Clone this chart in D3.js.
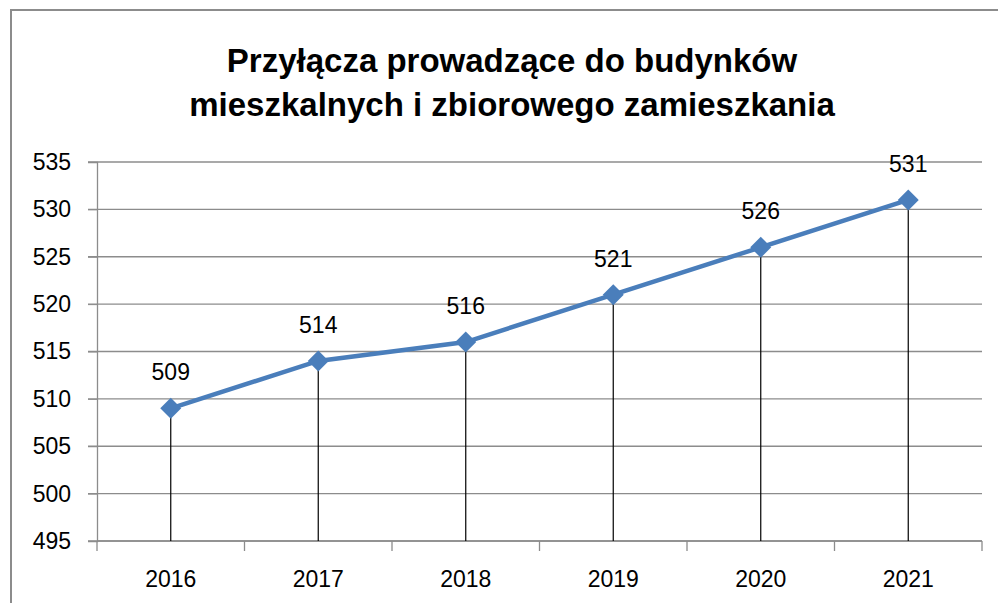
<!DOCTYPE html>
<html>
<head>
<meta charset="utf-8">
<script src="https://cdnjs.cloudflare.com/ajax/libs/d3/7.8.5/d3.min.js"></script>
<style>
  body { margin: 0; background: #fff; }
  svg { display: block; }
</style>
</head>
<body>
<script>
const years = ['2016', '2017', '2018', '2019', '2020', '2021'];
const values = [509, 514, 516, 521, 526, 531];
const yTicks = [495, 500, 505, 510, 515, 520, 525, 530, 535];
const titleLines = ['Przyłącza prowadzące do budynków', 'mieszkalnych i zbiorowego zamieszkania'];

const width = 998;
const height = 603;
const margin = { top: 162, right: 16, bottom: 62, left: 97 };
const font = 'Liberation Sans, Arial, sans-serif';

const svg = d3.select('body').append('svg')
    .attr('width', width)
    .attr('height', height);

// outer chart frame (only top and left edges are in view)
svg.append('rect')
    .attr('x', 11).attr('y', 10)
    .attr('width', 1100).attr('height', 700)
    .attr('fill', 'none')
    .attr('stroke', '#8c8c8c')
    .attr('stroke-width', 2);

svg.selectAll('.title')
    .data(titleLines)
  .enter().append('text')
    .attr('class', 'title')
    .attr('x', 512)
    .attr('y', (d, i) => 72 + i * 44)
    .attr('text-anchor', 'middle')
    .style('font-family', font)
    .style('font-weight', 'bold')
    .style('font-size', '33px')
    .style('fill', '#000')
    .text(d => d);

const x = d3.scaleBand()
    .domain(years)
    .range([margin.left, width - margin.right]);

const y = d3.scaleLinear()
    .domain([495, 535])
    .range([height - margin.bottom, margin.top]);

// gridlines
svg.append('g')
    .selectAll('line')
    .data(yTicks)
  .enter().append('line')
    .attr('x1', margin.left - 9)
    .attr('x2', width - margin.right)
    .attr('y1', d => y(d))
    .attr('y2', d => y(d))
    .attr('stroke', '#8c8c8c')
    .attr('stroke-width', 1.3);

// y axis
const yAxis = svg.append('g')
    .attr('transform', 'translate(' + margin.left + ',0)')
    .call(d3.axisLeft(y).tickValues(yTicks).tickSize(9).tickPadding(17));
yAxis.select('.domain').attr('stroke', '#8c8c8c').attr('stroke-width', 1.3);
yAxis.selectAll('.tick line').attr('stroke', '#8c8c8c');
yAxis.selectAll('text')
    .style('font-family', font)
    .style('font-size', '23px')
    .style('fill', '#000');

// x axis with ticks at band edges
const xAxis = svg.append('g')
    .attr('transform', 'translate(0,' + y(495) + ')');
xAxis.append('line')
    .attr('x1', margin.left).attr('x2', width - margin.right)
    .attr('stroke', '#8c8c8c').attr('stroke-width', 1.3);
xAxis.selectAll('.edge')
    .data(years.concat(['end']))
  .enter().append('line')
    .attr('x1', (d, i) => i < years.length ? x(d) : x(years[years.length - 1]) + x.bandwidth())
    .attr('x2', (d, i) => i < years.length ? x(d) : x(years[years.length - 1]) + x.bandwidth())
    .attr('y1', 0).attr('y2', 10)
    .attr('stroke', '#8c8c8c').attr('stroke-width', 1.3);
xAxis.selectAll('.lbl')
    .data(years)
  .enter().append('text')
    .attr('x', d => x(d) + x.bandwidth() / 2)
    .attr('y', 46)
    .attr('text-anchor', 'middle')
    .style('font-family', font)
    .style('font-size', '23px')
    .text(d => d);

const cx = d => x(d) + x.bandwidth() / 2;

// drop lines
svg.append('g')
    .selectAll('line')
    .data(years)
  .enter().append('line')
    .attr('x1', cx).attr('x2', cx)
    .attr('y1', (d, i) => y(values[i]))
    .attr('y2', y(495))
    .attr('stroke', '#000')
    .attr('stroke-width', 1.2);

const line = d3.line()
    .x((d, i) => cx(years[i]))
    .y(d => y(d));

svg.append('path')
    .datum(values)
    .attr('d', line)
    .attr('fill', 'none')
    .attr('stroke', '#4a7ebb')
    .attr('stroke-width', 4.5);

svg.append('g')
    .selectAll('path')
    .data(values)
  .enter().append('path')
    .attr('d', d3.symbol().type(d3.symbolDiamond2).size(280))
    .attr('transform', (d, i) => 'translate(' + cx(years[i]) + ',' + y(d) + ')')
    .attr('fill', '#4a7ebb');

svg.append('g')
    .selectAll('text')
    .data(values)
  .enter().append('text')
    .attr('x', (d, i) => cx(years[i]))
    .attr('y', d => y(d) - 28)
    .attr('text-anchor', 'middle')
    .style('font-family', font)
    .style('font-size', '23px')
    .text(d => d);
</script>
</body>
</html>
